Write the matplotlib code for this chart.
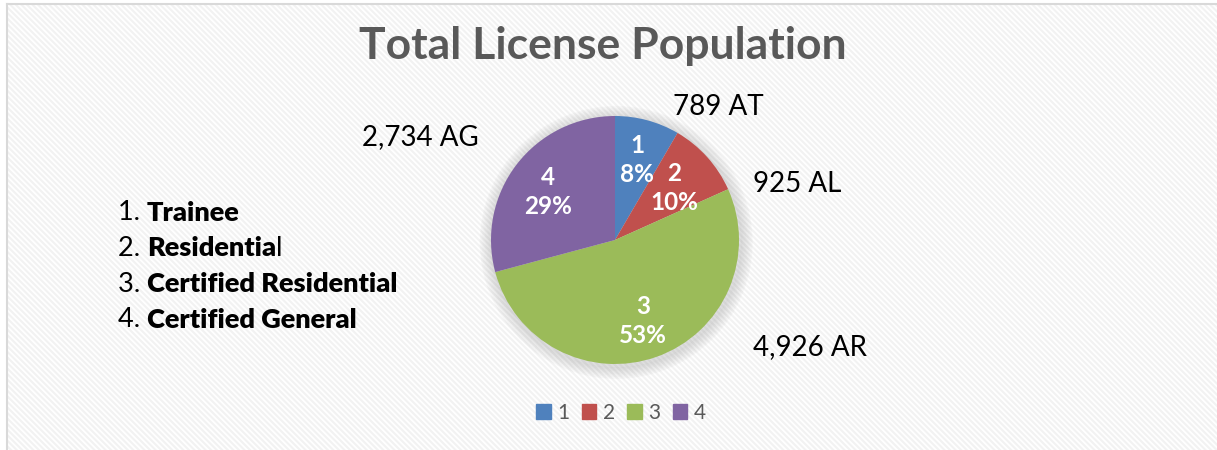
import numpy as np
import matplotlib.pyplot as plt
from matplotlib.patches import Rectangle, Circle

# data
categories = ['1', '2', '3', '4']
counts = [789, 925, 4926, 2734]
codes = ['AT', 'AL', 'AR', 'AG']
# bold part / trailing regular part of each name (the source has a non-bold final "l")
names_bold = ['Trainee', 'Residentia', 'Certified Residential', 'Certified General']
names_tail = ['', 'l', '', '']
colors = ['#4F81BD', '#C0504D', '#9BBB59', '#8064A2']

plt.rcParams['font.family'] = ['Lato', 'DejaVu Sans']
plt.rcParams['hatch.linewidth'] = 1.5

W, H = 1217, 450
fig = plt.figure(figsize=(W / 100, H / 100), dpi=100)

# background with faint diagonal texture
bg = fig.add_axes([0, 0, 1, 1])
bg.set_xlim(0, W)
bg.set_ylim(H, 0)
bg.axis('off')
bg.add_patch(Rectangle((7, 5), W, H, facecolor='white', edgecolor='#f2f2f2',
                       linewidth=0, hatch='\\\\\\\\\\\\'))
bg.plot([7, 7], [4, H], color='#d9d9d9', lw=1.5)
bg.plot([7, W], [4, 4], color='#d9d9d9', lw=1.5)

bg.text(603, 46, 'Total License Population', ha='center', va='center',
        fontsize=32, fontweight='bold', color='#595959')

# list of license types on the left
for i, (c, nb, nt) in enumerate(zip(categories, names_bold, names_tail)):
    y = 213 + i * 35.5
    t = bg.text(118, y, f'{c}. ', ha='left', va='center', fontsize=19.5, color='black')
    t = bg.annotate(nb, xycoords=t, xy=(1, 0.5), va='center', ha='left',
                    fontsize=19.5, fontweight='heavy', color='black')
    if nt:
        bg.annotate(nt, xycoords=t, xy=(1, 0.5), va='center', ha='left',
                    fontsize=19.5, color='black')

# pie
cx, cy, r = 615, 240, 124
ax = fig.add_axes([(cx - r) / W, 1 - (cy + r) / H, 2 * r / W, 2 * r / H])
ax.axis('off')

# soft shadow around the pie
for k in range(8):
    ax.add_patch(Circle((0.01, -0.02), 1.0 + 0.012 * (k + 1), color='#7f7f7f',
                        alpha=0.03, zorder=0, clip_on=False))

total = sum(counts)
wedges, _ = ax.pie(counts, colors=colors, startangle=90, counterclock=False,
                   radius=1, wedgeprops=dict(linewidth=0, zorder=2))
ax.set_xlim(-1, 1)
ax.set_ylim(-1, 1)
ax.set_aspect('equal')

# inside labels (pixel positions converted to pie units)
inner_px = [(637, 160), (674, 188), (643, 321), (548, 192)]
for (px, py), c, v in zip(inner_px, categories, counts):
    pct = round(100 * v / total)
    ax.text((px - cx) / r, (cy - py) / r, f'{c}\n{pct}%', ha='center', va='center',
            fontsize=17.5, fontweight='bold', color='white', linespacing=1.35, zorder=3)

# outside value labels
label_px = [(718, 107), (797, 184), (810, 347), (420, 137)]
for (px, py), v, code in zip(label_px, counts, codes):
    ax.text((px - cx) / r, (cy - py) / r, f'{v:,} {code}', ha='center', va='center',
            fontsize=20, color='black', clip_on=False)

# legend
handles = [Rectangle((0, 0), 1, 1, color=col) for col in colors]
fig.legend(handles, categories, loc='center', bbox_to_anchor=(621 / W, 1 - 413 / H),
           ncol=4, frameon=False, fontsize=15, handlelength=0.7, handleheight=0.7,
           handletextpad=0.3, columnspacing=0.6, labelcolor='#595959')

fig.savefig('out.png', dpi=100)
